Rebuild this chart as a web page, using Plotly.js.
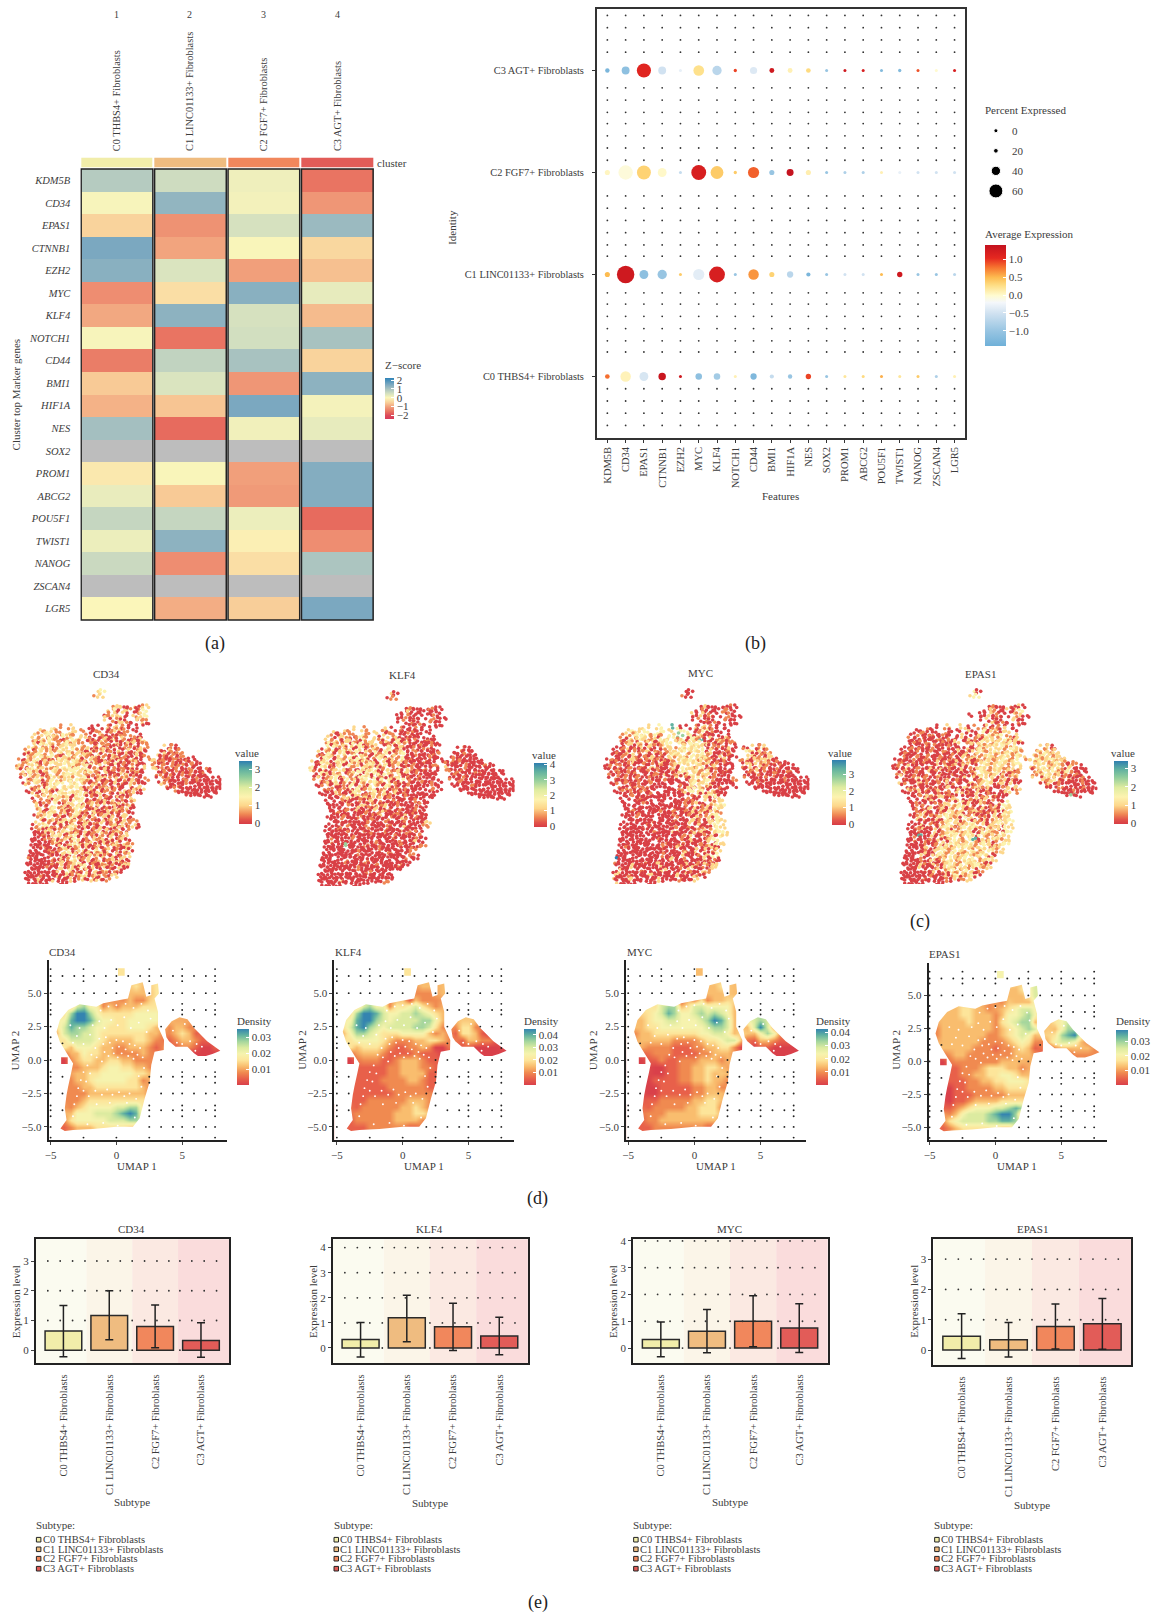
<!DOCTYPE html>
<html><head><meta charset="utf-8">
<script src="https://cdn.plot.ly/plotly-3.0.1.min.js"></script>
<style>html,body{margin:0;padding:0;background:#fff}#g{width:1154px;height:1615px}</style>
</head><body><div id="g"></div>
<script>
const subtypes=["C0 THBS4+ Fibroblasts","C1 LINC01133+ Fibroblasts","C2 FGF7+ Fibroblasts","C3 AGT+ Fibroblasts"];
const genes=["KDM5B","CD34","EPAS1","CTNNB1","EZH2","MYC","KLF4","NOTCH1","CD44","BMI1","HIF1A","NES","SOX2","PROM1","ABCG2","POU5F1","TWIST1","NANOG","ZSCAN4","LGR5"];
const subtypeColors=["#f1edaa","#efbc80","#f1875c","#e25c58"];
const bandColors=["#fbfbf0","#fbf5e8","#fbe9e2","#fadcdc"];
// (a) z-scores, one row per gene
const zC0=[.85,.05,-.5,1.5,1.35,-1.25,-.95,.05,-1.45,-.6,-.85,1.05,null,-.2,.22,.65,.18,.6,null,.0];
const zC1=[.55,1.25,-1.2,-1,.4,-.35,1.3,-1.55,.7,.4,-.65,-1.65,null,.03,-.6,.65,1.3,-1.25,null,-.9];
const zC2=[.15,.1,.45,.02,-1.05,1.35,.45,.5,1,-1.15,1.5,.12,null,-1.05,-1.1,.18,-.1,-.35,null,-.55];
const zC3=[-1.55,-1.15,1.15,-.45,-.7,.25,-.75,1,-.5,1.3,.08,.25,null,1.4,1.4,-1.65,-1.25,.95,null,1.5];
// (b) dot plot
const identities=["C0 THBS4+ Fibroblasts","C1 LINC01133+ Fibroblasts","C2 FGF7+ Fibroblasts","C3 AGT+ Fibroblasts"];
const pctC0=[20,45,38,32,10,28,28,6,27,18,19,23,6,3,10,12,12,11,6,6];
const pctC1=[22,75,38,40,10,48,68,12,45,22,27,18,6,3,3,12,23,9,6,6];
const pctC2=[22,62,60,38,8,64,55,14,48,22,30,22,10,8,8,6,4,4,8,8];
const pctC3=[19,34,61,34,8,46,40,14,31,21,21,20,11,11,11,8,14,10,8,11];
const avgC0=[.8,.08,-.45,1.35,1.3,-1.1,-.9,.1,-1.25,-.6,-1,.95,-1,.2,.3,.55,.2,.4,-.8,.1];
const avgC1=[.5,1.3,-1.1,-1,.4,-.35,1.2,-1,.65,.35,-.7,-1.3,-1,-.5,-.5,.5,1.3,-1,-1,-.7];
const avgC2=[.05,-.05,.35,.02,-.6,1.2,.4,.4,.85,-1,1.4,.12,-1,-.8,-.8,.1,-.3,-.5,-.5,-.5];
const avgC3=[-1.3,-1.1,1.1,-.5,-.3,.25,-.7,.95,-.4,1.3,.1,.3,-1,1.3,1.2,-1.2,-1.2,.9,0,1.2];
const bgDotRows=[3.54,3.42,3.3,3.18,2.83,2.71,2.59,2.48,2.36,2.24,2.12,1.77,1.65,1.53,1.41,1.29,1.18,.82,.71,.59,.47,.35,.24,-.12,-.24,-.36,-.48];
const pctLegend=[0,20,40,60];
const cCD34=["","....................23","....................12","","",
"........................1220.2012",".......................21302.10.3","......................0122.0.2123","......................2.0120..021",".........................0210..20",
"...........1..2....0.0.1021.0.0","......21321..12.1.001.201201.0",".....2123121321.2.10.2100101.1.0","....212132101232.210102020210102","....1202321123121.010211020021201",
"...221312012322.21201201020101021|...2010","..1201321213223121020120102020120|..102101","..0213212310231222102010210100201|.2010101",".1021231201322132012102012010200.|12010010100",".2123102132232321203102103010120.|210101001010",
"1210231213123231323012020101020.2|1201010100100",".0231202132123332132102010210120.|.20100100010010",".1023120132123232210120201012010.|.1010100101000","..20132013212313232012010201020.1|..101000100100000","..0213201323.23232101201020102100|..0210000100000000",
"...2012032.3232320120102010.2012.|...100100000000000","...0.10321023232.2010201.1020120.|......10000000000","....2.0212323.02320102010.201.|........0000000","....0.1.2032120323010201020102","....1201.23012.32012102010201",
".....2.10231201232010201020120",".....12032.120132102010212010",".....02123012013201020120102",".....1203210232012010201210201",".....2.2310230120120102012021",
"....012301201321020102012020120","....001022012320102012020120","....000102320123020102102012","....0000102012032010212020120","....0000012001230120102012021",
"....0001000232012020120120102","...00000100123012020310201020","...0000.010020320102120102012","...1000001020132012012012020","...00000002020123020102102012",
"...0000010020120230201201020","...000000002032010202012010","..00001000002010230120102","..0000200020002012020201","...00000..000"];
const cKLF4=["","....................20","....................01","","",
"........................0100.0100",".......................00200.00.0",".....................0.0100.0.0100","......................0.1010..010",".........................0010..00",
"...........2..1....2.0.1000.0.0","......20211..21.2.101.100100.0",".....2102310131.2.02.1200100.0.0","....212102210312.102103020100100","....1302120323012.101202100010010",
"...02130212032012103210200100100|...0100","..2013102301302103123012300100001|..000100","..1032022130323013201213000000100|.0100000",".2012303120230213032021201000100.|0010100000",".1032102303120232023012010100001.|100001000010",
"2301201232010321320121020210010.0|2100010000000",".1032021201230323103212020010000.|.10100001000000",".0120123023103230313012301001000.|.0100100000000","..20103203120232302320030100100.0|..001000000000000","..0012020103021032103210010000010|..0000010000000000",
"...1010012023012301301201000.0010|...000000000000000","...0.0021002320123120120100000.0.|......00000000000","....0.001202012021201000100.000.|........0000000","....0.0.1020010120100100000100","....0000.01002012012001000010",
".....0.0001020010200100100010",".....00100.000100120001000100",".....0000100010010000100200100",".....0001000000100010000100002",".....0.00010000100001000010001",
"....000100000010000100020000","....000000100000100100000101","....0000000100000000010000010","....0010000000000100000100020","....0000050000100000000100001",
"....00000000000000100000001","...00000000010000000100001","...000.000000000000000000100","...0000001000010000000000","...0000000000000010000010",
"...00000000010000000000","...000000000000100000","..0000000000000000000","..000000200000000001","...00000..000"];
const cMYC=["","....................00","....................10","","",
"........................0200.0010",".......................00100.01.0",".....................2.0201.0.0100","......................0.1010..010",".........................0010..00",
"...........2..3..6.0.0.1021.0.0","......23223..23.2.3.3.2013010.0",".....1213232131.3.25.2302100.0.0","....102123212032.312303160201021","....1012021230123.231232320102101",
"...00120120210132.123323230101020|.0.2012","..0010201012010112232323230200010|.1320201","..0001021010201023232132321002010|..220102",".0100102010120101212323213210020.|.120212200",".0010012001010200123232321201010.|102021210100",
"0010100100102010012032312301200.0|.1020201001000",".0010010100101000102322313201010.|.00120100100100",".1001010010001020012023212201000.|.0100100010000","..10010010010001000.1023123100.01|..000010000100000","..0010100100100000.00023223100000|..0001000000000000",
"...1001010100.000.0102032120010.0|...000000000000000","...0.1010010.0.00000123.2302100.|......00000000000","....0.0100010000.000.012022310|........0000000","....0.0.0100.000.0000100.22032","....00.00010.00.000010120.2123",
".....0.00000000000000102012032",".....00100.000100100102012021",".....00001000.000010001020123",".....0001000.00000100020102032",".....0.0000010000100002010023",
"....00000010000000100102010232","....00000000010000200010120123","....000000.00000000010200102032","....0000000000100000102000123","....00000000.00100010000102032",
"....0010000000010002000010120","...00000000000000000100202012","...000.0000000010000200010203","...70000000000000200100002010","...10000001000200000020010202",
"...0000200000020000100200102","...020000010000200000210021","..02001000020000002000010","..2000020000002000010002","...20000..000"];
const cEPAS1=["","....................30","....................23","","",
"........................0100.1020",".......................00210.20.3","...................0.0.0201.0.2120","......................0.2010..320",".........................2010..10",
"...........0..2..2.0.1.0201.2.0","......00100..10.0.2.0.1302102.0",".....0010010010.0.20.0213213.1.2","....100100010010.202010232123202","....0010010001002.012023212321320",
"...00100101000100.02012123232132.|...2120","..0010010010010002010232123212321|..121212","..0100100100100100201212321232132|.2123212",".0010010010010010021202132123213.|1232123212",".0100100100201002012012321232123.|.12321232101",
"0010200100100201002010232123212.2|.2123212310200",".0010010020100100200123212321201.|.01232321231000",".1020010010020010002012321202012.|.1212321201010","..01002010010200100.201232012010.|...0212301200100","..2010020100102010.0201232012020.|...20120100000100",
"...0201002010020.020120120001202.|....10.0100000100","...0.1020100201.0201002010.002.1|.......0000010000","....0.0102012010.201020012000|.........0050","....0.0.2010.2012.0012012010","....0010.20102.0320200210.203",
".....0.01020120213201002012032",".....01020.0203212012010012023",".....0012010123212301200102032",".....0201002032120320102012123",".....0.0201021232012321201232",
"....00102010232012323210212032","....00010002012321232012321203","....0006002012323123203212132","....00100010201232123602123212","....0000100120232123212320123",
"....00000201232123232123212","...0000010023212321232123212","...000.0200232132123212320","...00001002012321232321232","...0000001020123212323210",
"...0000200010232132123212","...00000010201232123201","..00000000100201321230","..000000100000102012","...00000..000"];
const cCellOffsetX=[.31,-.22,.44,-.38,.12,-.47,.27,.05,-.14,.41,-.33,.19,-.06,.36,-.42,.23,-.27];
const cCellOffsetY=[-.18,.35,.08,-.41,.26,-.07,.43,-.3,.14,-.24,.39,.02,-.36];
// (d) density bands on a half-unit UMAP grid, x from -5, y from 7 downwards
const dCD34=["","...........4","",".............43.4","............333.4","...........2322","...3675.2.2333444","..4799754444455554","..589986554455555",".4687765544455543.2332",".367766544444443..23431","..466665433334432.1233211","...355543322333212.1221001","....354433222232.....00000","..0.344334433222","....233345544332","....3344555554432","...233455555442","...2233444444432","...2223333333332","...2234444444443","...234555566774","...355566678984","..24555556667763","..1233344444332"];
const dKLF4=["","...........4","",".............33.3","............222.3","...........1.222","...3675.2.456432","..479986556676543","..589976566667753",".4689765666677642.2442",".357765444555532..144310","..4555543222334432.1332210","...34443211223200.1110000","....33321111211.....00000","..0.22211233321","....1111223332","....11112233331","...111122223321","...111112222221","...11111122222","...112222223332","...122222233432","...2222223334432","..122222233332","..11122222211"];
const dMYC=["","...........3","",".............34.3","............333.3","......2.1.2.233","....46773.6655553","...45687556767653","..345566555679863..67",".3344555555567763.36962",".2334444444556653..357521","..3333322223445663.133211","...222211122334420.0110000","....222111122333.....00000","..0.12112223332","....00112233443","....0011223343","...01111223343","...001111122332","...0011111223","...112222233443","...122222334442","...222333334443","..1223333333332","..112222222211"];
const dEPAS1=["","...........5","",".............34.6","............333.6","...........2.333","...33443.2.34566","..3334433323556753","..333343332456773",".23333333323456763.35772",".2333333322345653..478953","..333333222234542.35665321","...33332221223431.023333322","....332222222333.....12222","..0.2222222333","....12223444332","....122334455433","...11122334455543","...01122223344443","...0111222223333","...01123333444433","...123455566787","...235666789973","..2456666778875","..12344444433"];
const dDotRowsY=[6.28,5,3.74,2.5,1.25,0,-1.25,-2.5,-3.75,-5];
const dDotRowsX=[-5,-4.1,-3.2,-2.5,-1.7,-.8,0,.9,1.8,2.5,3.4,4.3,5,5.9,6.8,7.5];
const dDotColsX=[-5,-2.5,0,2.5,5,7.5];
const dDotColsY=[6.8,5.9,4.2,3.4,1.7,.9,-.9,-1.7,-3.4,-4.2,-5.8];
// silhouette of the cell cloud in UMAP units (null separates the pieces)
const umapOutX=[-7,12,12,-7,-7,null,-4.25,-3.79,-3.92,-3.79,-3.67,-3.42,-3.29,-3.84,-4.3,-4.55,-4.3,-3.67,-2.79,-1.53,-1,.25,.88,1.14,2,2.27,2.65,2.65,3.16,3.23,2.9,3.16,3.16,3.62,3.6,2.9,2.65,2.53,2.15,1.77,1.26,0,-1.77,-3.29,-3.92,-4.25,null,3.7,4.2,4.8,5.4,5.9,6.3,6.9,7.9,7.3,6.8,6.2,5.9,5.4,4.5,4,3.8,3.7,null,.12,.63,.63,.12,.12,null,-4.2,-3.7,-3.7,-4.2,-4.2];
const umapOutY=[-8,-8,9,9,-8,null,-5.11,-4.49,-3.61,-2.62,-2,-.87,-.25,.62,1.37,2.12,2.99,3.74,4.17,3.99,4.24,4.49,4.6,5.6,5.81,4.73,4.86,5.6,5.73,4.98,4.6,3.61,2.49,1.5,.75,.62,-.37,-1.62,-2.87,-4.36,-4.99,-4.99,-5.16,-5.23,-5.3,-5.11,null,2.3,2.9,3.2,3.05,2.4,2,1.4,.7,.45,.3,.3,.5,1,1,1.4,1.7,2.3,null,6.86,6.86,6.3,6.3,6.86,null,.2,.2,-.3,-.3,.2];
const umapGapsX=[-1.3,-1,-.8,-.5,-.3,0,.2,.5,.7,1,1.2,1.4,-.9,-.6,-.2,.1,.4,.9,1.3,1.6,1.8,-1.6,-1.9,-1.5,-1.1,-2.2,-2.5,-2,-2.7,-2.3,-2.9,-2.5,-3,-2.1,-1.6,-1.1,-.7,-.3,.2,.6,1,1.5,1.9,1.7,2.1,2,-1.8,-1.3,-.9,-.4,.1,.6,1.1,1.7,2.3,2.6,2.4,-1.2,-.6,0,.7,1.3,1.9,-3.5,-3,-2.5,-2.8,-2,-3.3,-.5,-1.5,.8,-3.2,-3.3,-2.2,-1,.1,1.4,4.6,5,5.6,6.1,6.5,6,4.3,5.2];
const umapGapsY=[1.6,1.2,1.7,1.3,.9,1.5,1,1.4,.8,1.2,.6,1.1,.6,.3,.5,.2,.5,.3,.1,.4,.9,.9,.4,.2,-.1,-.4,-.9,-1,-1.5,-1.6,-2.1,-2.3,-2.7,-2.7,-2.3,-2.6,-2.2,-2.6,-2.4,-2.7,-2.5,-2.9,-2,-1.2,-.6,.2,2.6,2.9,2.4,3,2.6,3.2,2.4,2.8,2.1,3.1,3.7,3.7,4,4.1,4.2,3.9,4.2,2.6,1.8,1.2,2.4,1.9,1.3,-3.2,-3.3,-3.2,-3.3,-4.2,-4.8,-4.7,-4.9,-4.3,1.3,1.2,1.4,1.2,1,.7,2.2,2.7];
// (e) mean and error bar ends
const eCD34=[.65,1.17,.8,.33], eCD34Up=[.85,.83,.72,.59], eCD34Dn=[.87,.82,.72,.57];
const eKLF4=[.34,1.2,.85,.48], eKLF4Up=[.68,.9,.93,.74], eKLF4Dn=[.7,.95,.95,.75];
const eMYC=[.32,.63,1,.75], eMYCUp=[.65,.81,.95,.9], eMYCDn=[.65,.81,.95,.92];
const eEPAS1=[.46,.34,.78,.87], eEPAS1Up=[.74,.57,.74,.83], eEPAS1Dn=[.74,.57,.74,.84];
const eDotX=[-.34,-.07,.2,.47,.73,.97,1.24,1.5,1.77,2.04,2.3,2.54,2.8,3.07,3.34];

const W=1154,H=1615,FONT="Liberation Serif",INK="#3c3c3c";
const traces=[],shapes=[],annotations=[];
const layout={width:W,height:H,margin:{l:0,r:0,t:0,b:0},paper_bgcolor:"#fff",plot_bgcolor:"rgba(0,0,0,0)",showlegend:false,hovermode:false,font:{family:FONT,color:INK,size:11},shapes,annotations};
let axN=0;
function axes(x0,x1,y0,y1,xo,yo){axN++;const s=axN===1?"":axN;
 layout["xaxis"+s]=Object.assign({domain:[x0/W,x1/W],anchor:"y"+s,zeroline:false,showgrid:false,visible:false,fixedrange:true},xo||{});
 layout["yaxis"+s]=Object.assign({domain:[1-y1/H,1-y0/H],anchor:"x"+s,zeroline:false,showgrid:false,visible:false,fixedrange:true},yo||{});
 return {x:"x"+s,y:"y"+s};}
function ann(text,x,y,o){o=o||{};annotations.push({text,x:x/W,y:1-y/H,xref:"paper",yref:"paper",showarrow:false,xanchor:o.xa||"center",yanchor:o.ya||"middle",textangle:o.angle||0,font:{family:FONT,size:o.size||11,color:o.color||INK,style:o.style||"normal"},borderpad:0,borderwidth:0});}
function cbar(x,y0,y1,w,vals,text,size){return {x:x/W,xanchor:"left",xpad:0,y:1-y1/H,yanchor:"bottom",ypad:0,len:y1-y0,lenmode:"pixels",thickness:w,thicknessmode:"pixels",outlinewidth:0,tickmode:"array",tickvals:vals,ticktext:text,ticks:"inside",ticklen:3,tickwidth:1,tickcolor:"#fff",tickfont:{family:FONT,size:size||11,color:INK}};}

// ===== (a)
const heatVals=genes.map((g,i)=>[zC0[i],zC1[i],zC2[i],zC3[i]]);
const zMin=-2.4,zMax=2.23,st=v=>(v-zMin)/(zMax-zMin);
const heatScale=[[0,"#d83a5a"],[st(-2),"#dc4a5a"],[st(-1.6),"#e8705f"],[st(-1.1),"#f09a78"],[st(-.5),"#f9d39c"],[st(0),"#fbf6ba"],[st(.5),"#d2dfc0"],[st(1),"#a8c2c0"],[st(1.5),"#7ba8c0"],[1,"#2f84b8"]];
const A=axes(80.5,375,169,620,{range:[-.5,3.5]},{visible:true,range:[19.5,-.5],tickmode:"array",tickvals:genes.map((g,i)=>i),ticktext:genes,ticks:"",ticklabelstandoff:9,tickfont:{family:FONT,size:10.5,style:"italic",color:INK},showline:false});
traces.push({type:"heatmap",xaxis:A.x,yaxis:A.y,x:[0,1,2,3],y:genes.map((g,i)=>i),z:genes.map((g,i)=>heatVals[i].map(v=>v===null?1:null)),colorscale:[[0,"#bdbdbd"],[1,"#bdbdbd"]],showscale:false,xgap:2});
traces.push({type:"heatmap",xaxis:A.x,yaxis:A.y,x:[0,1,2,3],y:genes.map((g,i)=>i),z:heatVals,zmin:zMin,zmax:zMax,colorscale:heatScale,xgap:2,
 colorbar:cbar(386,378,419,9,[2,1,0,-1,-2],["2","1","0","−1","−2"],11)});
[0,1,2,3].forEach(i=>shapes.push({type:"rect",xref:A.x,yref:A.y+" domain",x0:i-.488,x1:i+.488,y0:0,y1:1,line:{color:"#222",width:1.5},fillcolor:"rgba(0,0,0,0)"}));
const AS=axes(80.5,375,157.5,167.5,{range:[-.5,3.5]},{range:[-.5,.5]});
traces.push({type:"heatmap",xaxis:AS.x,yaxis:AS.y,x:[0,1,2,3],y:[0],z:[[0,1,2,3]],zmin:0,zmax:3,colorscale:[[0,subtypeColors[0]],[1/3,subtypeColors[1]],[2/3,subtypeColors[2]],[1,subtypeColors[3]]],showscale:false,xgap:2});
[117,190,264,338].forEach((x,i)=>{ann(String(i+1),x,14.5,{size:10});ann(subtypes[i],x,151,{angle:-90,ya:"bottom",size:10.4});});
ann("cluster",378,162.5,{xa:"left"});
ann("Z−score",386,365,{xa:"left"});
ann("Cluster top Marker genes",16,394.5,{angle:-90});
ann("(a)",215.4,643,{size:18,color:"#222"});

// ===== (b)
const B=axes(598.5,967.5,9.3,437.7,{visible:true,range:[-.57,19.57],tickmode:"array",tickvals:genes.map((g,i)=>i),ticktext:genes,tickangle:-90,ticks:"outside",ticklen:3,tickcolor:"#333",showline:true,mirror:true,linecolor:"#333",linewidth:2,tickfont:{family:FONT,size:10.5,color:INK}},
 {visible:true,range:[-.6,3.6],tickmode:"array",tickvals:[0,1,2,3],ticktext:identities,ticks:"outside",ticklen:3,tickcolor:"#333",ticklabelstandoff:6,showline:true,mirror:true,linecolor:"#333",linewidth:2,tickfont:{family:FONT,size:10.4,color:INK}});
const bgx=[],bgy=[];bgDotRows.forEach(r=>genes.forEach((g,i)=>{bgx.push(i);bgy.push(r);}));
traces.push({type:"scatter",mode:"markers",xaxis:B.x,yaxis:B.y,x:bgx,y:bgy,marker:{size:1.8,color:"#333"}});
const pctRows=[pctC0,pctC1,pctC2,pctC3],avgRows=[avgC0,avgC1,avgC2,avgC3];
const bx=[],by=[],bs=[],bc=[];pctRows.forEach((row,r)=>row.forEach((p,i)=>{bx.push(i);by.push(r);bs.push(p);bc.push(avgRows[r][i]);}));
traces.push({type:"scatter",mode:"markers",xaxis:B.x,yaxis:B.y,x:bx,y:by,marker:{size:bs,opacity:1,sizemode:"diameter",sizeref:4.3,sizemin:1.5,color:bc,cmin:-1.42,cmax:1.41,line:{width:0},
 colorscale:[[0,"#6fb0d8"],[.15,"#98c5e2"],[.32,"#cfe1f0"],[.43,"#f4f7fb"],[.5,"#fffbd0"],[.6,"#fede85"],[.68,"#fdbb50"],[.78,"#f6722f"],[.87,"#e52820"],[1,"#c4121f"]],
 showscale:true,colorbar:cbar(988,245,345.7,21,[1,.5,0,-.5,-1],["1.0","0.5","0.0","−0.5","−1.0"],11)}});
ann("Features",783,496);ann("Identity",453,227,{angle:-90});
ann("Percent Expressed",988,110,{xa:"left"});ann("Average Expression",988,234,{xa:"left"});
const BL=axes(988,1009,120.7,201,{range:[-1,1]},{range:[3.5,-.5]});
traces.push({type:"scatter",mode:"markers",xaxis:BL.x,yaxis:BL.y,x:pctLegend.map(()=>0),y:pctLegend.map((p,i)=>i),marker:{size:pctLegend.map(p=>Math.max(p,8)),opacity:1,sizemode:"diameter",sizeref:4.3,sizemin:2,color:"#000"}});
pctLegend.forEach((p,i)=>ann(String(p),1015,130.7+i*20.1,{xa:"left"}));
ann("(b)",757,643,{size:18,color:"#222"});

// ===== (c)
const cScale=[[0,"#d73c45"],[.07,"#e2544a"],[.16,"#f08a55"],[.29,"#fdd68a"],[.43,"#fdf3b0"],[.58,"#dfeca0"],[.75,"#8ccb9c"],[.87,"#5fb0a0"],[1,"#2f7fb0"]];
function cPanel(name,grid,col0,row0,cmax,tx,ty,vx,vy,bx0,bx1,by0,by1,ticks){
 const P=axes(col0-2,col0+52*4-2,row0-2,row0+50*4-2,{range:[-.5,51.5]},{range:[49.5,-.5]});
 const xs=[],ys=[],cs=[];
 grid.forEach((line,r)=>{const parts=line.split("|");const full=parts.length>1?parts[0].padEnd(34,".")+parts[1]:parts[0];
  [...full].forEach((ch,c)=>{if(ch==="."){return;}
   const k=r*r*5+c*c*3+r*c+c;
   const stag=r%2?.5:0;
   const nb=full[c+1]&&full[c+1]!=="."?full[c+1]:ch;
   xs.push(c+stag+cCellOffsetX[k%17]);ys.push(r+cCellOffsetY[k%13]);cs.push(+ch/2*cmax/3.5);
   xs.push(c+stag+.5+cCellOffsetX[(k+7)%17]*.7);ys.push(r+.5+cCellOffsetY[(k+4)%13]*.7);cs.push(+nb/2*cmax/3.5);
  });});
 traces.push({type:"scatter",mode:"markers",xaxis:P.x,yaxis:P.y,x:xs,y:ys,marker:{size:3.6,color:cs,cmin:-.05,cmax,colorscale:cScale,line:{width:0},showscale:true,colorbar:cbar(bx0,by0,by1,bx1-bx0,ticks,ticks.map(String),11)}});
 ann(name,tx,ty);ann("value",vx,vy,{xa:"left"});
}
cPanel("CD34",cCD34,16,686,3.46,107,673.7,236,752.7,239.3,252,761,824.3,[0,1,2,3]);
cPanel("KLF4",cKLF4,310,688,4.11,403.7,675,533,755,535.6,549,762.3,826.7,[0,1,2,3,4]);
cPanel("MYC",cMYC,605.6,686,3.87,702.4,672.7,830,752.7,834,848,760,824.7,[0,1,2,3]);
cPanel("EPAS1",cEPAS1,894.4,686,3.4,983,673.7,1114,752.7,1117,1130.5,761,824.3,[0,1,2,3]);
ann("(c)",922,922,{size:18,color:"#222"});

// ===== (d)
const dScale=[[0,"#d9404a"],[1/9,"#e8604a"],[2/9,"#f08a50"],[3/9,"#f9bd6e"],[4/9,"#fde59a"],[5/9,"#f6f3ae"],[6/9,"#dcebA0"],[7/9,"#a5d69d"],[8/9,"#62b2a0"],[1,"#3484b0"]];
const dXs=[];for(let c=0;c<27;c++)dXs.push(-5+c*.5);
const dYs=[];for(let r=0;r<27;r++)dYs.push(7-r*.5);
function grow(z){return z.map((row,r)=>row.map((v,c)=>{if(v!==null)return v;let s=0,n=0;for(let a=-1;a<2;a++)for(let b=-1;b<2;b++){const w=z[r+a]&&z[r+a][c+b];if(w!==null&&w!==undefined){s+=w;n++;}}return n?s/n:null;}));}
function dPanel(name,grid,zmax,bx,ab,x0Data,pxU,titleX,titleY,cbX,cbTop,vals,ux,uy,top,pxY){
 const xr=[(ab[0]-x0Data)/pxU,(ab[1]-x0Data)/pxU];
 const P=axes(ab[0],ab[1],top,1140.3,{visible:true,range:xr,tickmode:"array",tickvals:[-5,0,5],ticktext:["−5","0","5"],ticks:"outside",ticklen:3,showline:true,linecolor:"#222",linewidth:2,tickfont:{family:FONT,size:11,color:INK}},
  {visible:true,range:[pxY,7.48],tickmode:"array",tickvals:[5,2.5,0,-2.5,-5],ticktext:["5.0","2.5","0.0","−2.5","−5.0"],ticks:"outside",ticklen:3,showline:true,linecolor:"#222",linewidth:2,tickfont:{family:FONT,size:11,color:INK}});
 let z=dYs.map((y,r)=>dXs.map((x,c)=>{const line=grid[r]||"";const ch=line[c];return (ch===undefined||ch===".")?null:+ch/9*zmax;}));
 z=grow(grow(z));
 traces.push({type:"heatmap",xaxis:P.x,yaxis:P.y,x:dXs,y:dYs,z,zmin:0,zmax,zsmooth:"best",colorscale:dScale,colorbar:cbar(cbX,cbTop,1085,bx,vals,vals.map(String),11)});
 traces.push({type:"scatter",mode:"none",fill:"toself",fillcolor:"#fff",xaxis:P.x,yaxis:P.y,x:umapOutX,y:umapOutY});
 traces.push({type:"scatter",mode:"markers",xaxis:P.x,yaxis:P.y,x:umapGapsX,y:umapGapsY,marker:{size:1.9,color:"#fff"}});
 const empty=(x,y)=>{const r=Math.round((7-y)/.5),c=Math.round((x+5)/.5);return !grid[r]||grid[r][c]===undefined||grid[r][c]===".";};
 const xs=[],ys=[];
 dDotRowsY.forEach(y=>dDotRowsX.forEach(x=>{if(empty(x,y)){xs.push(x);ys.push(y);}}));
 dDotColsX.forEach(x=>dDotColsY.forEach(y=>{if(empty(x,y)){xs.push(x);ys.push(y);}}));
 traces.push({type:"scatter",mode:"markers",xaxis:P.x,yaxis:P.y,x:xs,y:ys,marker:{size:1.9,color:"#222"}});
 ann(name,titleX,titleY,{xa:"left"});ann("Density",cbX,1021,{xa:"left"});
 ann("UMAP 1",ux,1165.7);ann("UMAP 2",uy,1050,{angle:-90});
}
dPanel("CD34",dCD34,.0353,12,[48.9,227.8],116.7,13.19,49,951.7,237.4,1029,[.01,.02,.03],137.8,15.5,960,-6);
dPanel("KLF4",dKLF4,.0446,12,[335.2,515.2],403.7,13.19,336,951.7,525,1029,[.01,.02,.03,.04],424.8,302.6,960,-6);
dPanel("MYC",dMYC,.0426,12,[627.8,808],696.2,13.27,628.5,951.7,818.2,1029,[.01,.02,.03,.04],717.9,594.7,960,-6);
dPanel("EPAS1",dEPAS1,.0377,12,[931,1109.4],998,13.2,931,953.7,1119,1030,[.01,.02,.03],1019.3,898,962.7,-5.98);
ann("(d)",539,1198,{size:18,color:"#222"});

// ===== (e)
function ePanel(name,vals,up,dn,x0,x1,y1,yr,yTicks,titleX,ylabX,subY,legX,legT){
 const P=axes(x0,x1,1239.3,y1,{visible:true,range:[-.6,3.62],tickmode:"array",tickvals:[0,1,2,3],ticktext:subtypes,tickangle:-90,ticks:"outside",ticklen:5,tickcolor:"rgba(0,0,0,0)",showline:true,mirror:true,linecolor:"#222",linewidth:2,tickfont:{family:FONT,size:10.5,color:INK}},
  {visible:true,range:yr,tickmode:"array",tickvals:yTicks,ticktext:yTicks.map(String),ticks:"outside",ticklen:3,tickcolor:"#444",showline:true,mirror:true,linecolor:"#222",linewidth:2,tickfont:{family:FONT,size:11,color:INK}});
 bandColors.forEach((c,i)=>shapes.push({type:"rect",layer:"below",xref:P.x,yref:P.y+" domain",x0:i===0?-.6:i-.5,x1:i===3?3.62:i+.5,y0:0,y1:1,fillcolor:c,line:{width:0}}));
 const xs=[],ys=[];
 yTicks.forEach(y=>eDotX.forEach(x=>{const i=Math.round(x);if(!(Math.abs(x-i)<.4&&y>=0&&y<vals[i])){xs.push(x);ys.push(y);}}));
 traces.push({type:"bar",xaxis:P.x,yaxis:P.y,x:[0,1,2,3],y:vals,width:.8,marker:{color:subtypeColors,line:{color:"#2a2a2a",width:1.5}},
  error_y:{type:"data",symmetric:false,array:up,arrayminus:dn,visible:true,thickness:1.5,width:4,color:"#222"}});
 traces.push({type:"scatter",mode:"markers",xaxis:P.x,yaxis:P.y,x:xs,y:ys,marker:{size:1.8,color:"#333"}});
 ann(name,titleX,1228.7);ann("Expression level",ylabX,1301.7,{angle:-90});ann("Subtype",titleX,subY);
 ann("Subtype:",legX,1525,{xa:"left"});
 [1539.7,1549.3,1558.7,1568.7].forEach((y,i)=>{
  shapes.push({type:"rect",xref:"paper",yref:"paper",x0:(legX+.5)/W,x1:(legX+5)/W,y0:1-(y+2.3)/H,y1:1-(y-2.3)/H,fillcolor:subtypeColors[i],line:{color:"#222",width:1}});
  ann(subtypes[i],legT,y,{xa:"left",size:10.5});});
}
ePanel("CD34",eCD34,eCD34Up,eCD34Dn,36,230,1363.3,[-.44,3.73],[0,1,2,3],132,15.5,1502,36,43.3);
ePanel("KLF4",eKLF4,eKLF4Up,eKLF4Dn,333.7,529.3,1363.3,[-.61,4.33],[0,1,2,3,4],430.7,314,1503,334.4,341);
ePanel("MYC",eMYC,eMYCUp,eMYCDn,634.8,830,1363.3,[-.57,4.06],[0,1,2,3,4],731.5,614,1502,634.8,641.8);
ePanel("EPAS1",eEPAS1,eEPAS1Up,eEPAS1Dn,935.9,1134.4,1365.3,[-.5,3.65],[0,1,2,3],1034.8,916.4,1505,936.6,943);
ann("(e)",539,1602,{size:18,color:"#222"});

Plotly.newPlot("g",traces,layout,{staticPlot:true,displayModeBar:false});
</script></body></html>
